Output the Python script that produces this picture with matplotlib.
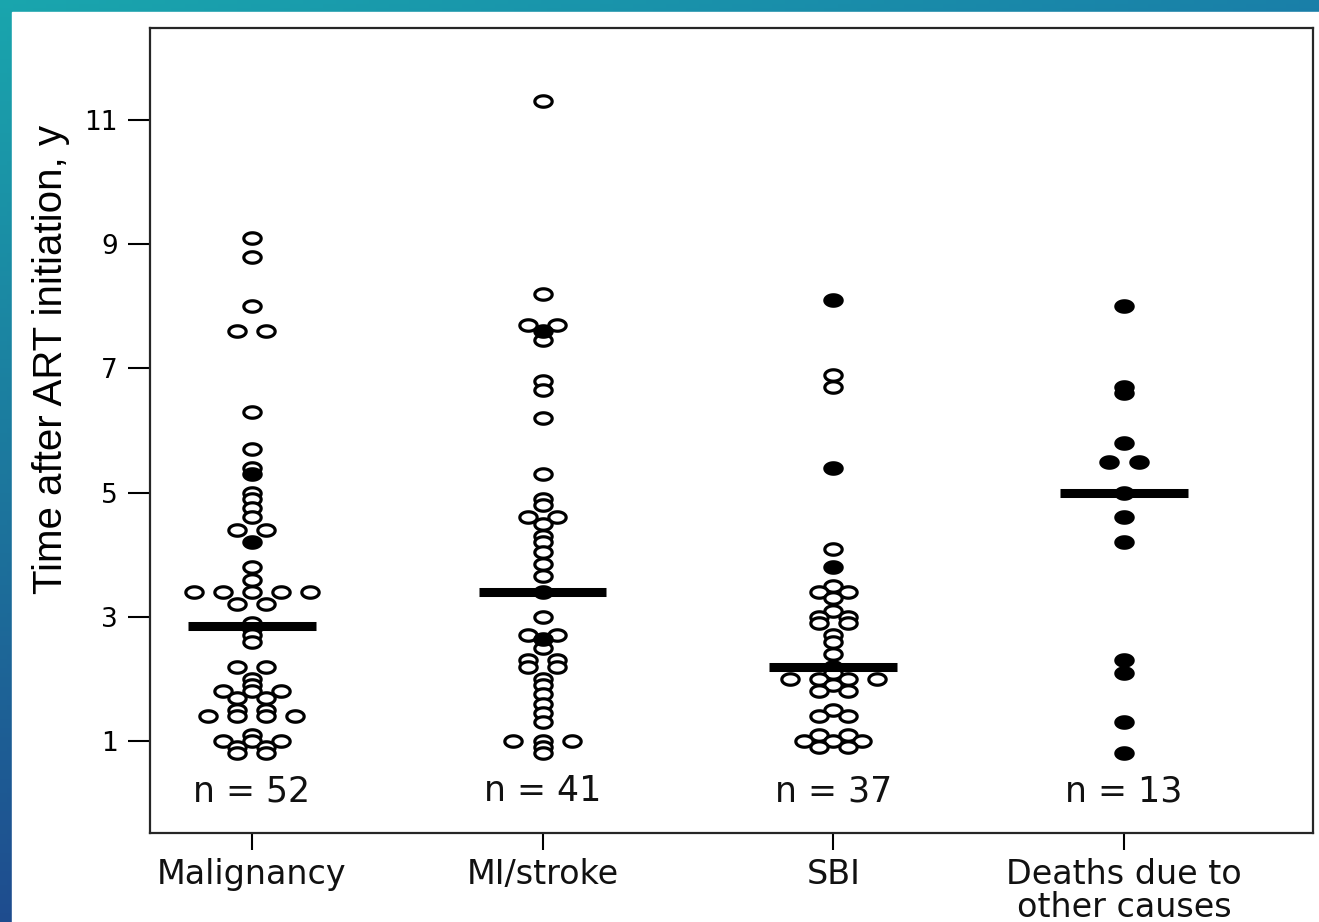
import numpy as np
import matplotlib
matplotlib.use("Agg")
import matplotlib.pyplot as plt
from matplotlib.path import Path
from matplotlib.patches import Rectangle

groups = ["Malignancy", "MI/stroke", "SBI", "Deaths due to\nother causes"]
n_labels = ["n = 52", "n = 41", "n = 37", "n = 13"]

mal_open = [9.1, 8.8, 8.0, 7.6, 7.6, 6.3, 5.7, 5.4, 5.0, 4.9, 4.75, 4.6, 4.4, 4.4,
            3.8, 3.6, 3.4, 3.4, 3.4, 3.4, 3.4, 3.2, 3.2, 2.9, 2.8, 2.7, 2.6,
            2.2, 2.2, 2.0, 1.9, 1.8, 1.8, 1.8, 1.7, 1.7, 1.5, 1.5,
            1.4, 1.4, 1.4, 1.4, 1.1, 1.0, 1.0, 1.0, 0.9, 0.9, 0.8, 0.8]
mal_filled = [5.3, 4.2]

mi_open = [11.3, 8.2, 7.7, 7.7, 7.45, 6.8, 6.65, 6.2, 5.3, 4.9, 4.8, 4.6, 4.6, 4.5,
           4.3, 4.2, 4.05, 3.85, 3.65, 3.4, 3.0, 2.7, 2.7, 2.5, 2.3, 2.3, 2.2, 2.2,
           2.0, 1.9, 1.75, 1.6, 1.45, 1.3, 1.0, 1.0, 1.0, 0.9, 0.8]
mi_filled = [7.6, 2.65]

sbi_open = [6.9, 6.7, 4.1, 3.5, 3.4, 3.4, 3.3, 3.1, 3.0, 3.0, 2.9, 2.9, 2.7, 2.6,
            2.4, 2.2, 2.1, 2.0, 2.0, 2.0, 2.0, 1.9, 1.8, 1.8, 1.5, 1.4, 1.4,
            1.1, 1.1, 1.0, 1.0, 1.0, 0.9, 0.9]
sbi_filled = [8.1, 5.4, 3.8]

oth_open = []
oth_filled = [8.0, 6.7, 6.6, 5.8, 5.5, 5.5, 5.0, 4.6, 4.2, 2.3, 2.1, 1.3, 0.8]

data = [(mal_open, mal_filled), (mi_open, mi_filled),
        (sbi_open, sbi_filled), (oth_open, oth_filled)]

# ellipse marker (wider than tall, like the stretched original)
t = np.linspace(0, 2 * np.pi, 60)
ell = Path(np.column_stack([np.cos(t), 0.66 * np.sin(t)]), closed=True)

fig = plt.figure(figsize=(13.19, 9.22), dpi=100)

# slide background: gradient frame + white panel
bg = fig.add_axes([0, 0, 1, 1], zorder=-10)
gx, gy = np.meshgrid(np.linspace(0, 1, 200), np.linspace(0, 1, 200))
top_left = np.array([0.10, 0.65, 0.68])
top_right = np.array([0.10, 0.50, 0.66])
bottom = np.array([0.12, 0.30, 0.56])
grad = (top_left + gx[..., None] * (top_right - top_left)
        + gy[..., None] * (bottom - top_left))
bg.imshow(np.clip(grad, 0, 1), extent=[0, 1, 0, 1], aspect="auto", origin="upper")
bg.add_patch(Rectangle((12 / 1319, 0), 1, 1 - 12 / 922, color="white"))
bg.set_xlim(0, 1)
bg.set_ylim(0, 1)
bg.axis("off")

ax = fig.add_axes([150 / 1319, 89 / 922, 1163 / 1319, 805 / 922])

step = 0.1
for i, (op, fi) in enumerate(data):
    xc = i + 1
    vals = np.array(op + fi, dtype=float)
    filled = np.array([False] * len(op) + [True] * len(fi))
    xs = np.zeros(len(vals))
    keys = np.round(vals, 3)
    for k in np.unique(keys):
        idx = np.where(keys == k)[0]
        xs[idx] = xc + (np.arange(len(idx)) - (len(idx) - 1) / 2) * step
    ax.scatter(xs[~filled], vals[~filled], marker=ell, s=155, facecolors="white",
               edgecolors="black", linewidths=2.3, zorder=3)
    ax.scatter(xs[filled], vals[filled], marker=ell, s=155, facecolors="black",
               edgecolors="black", linewidths=2.3, zorder=4)
    med = np.median(vals)
    ax.hlines(med, xc - 0.22, xc + 0.22, colors="black", linewidth=6.5, zorder=5)
    ax.text(xc, 0.19, n_labels[i], ha="center", va="center", fontsize=25,
            color="#111111")

ax.set_xlim(0.65, 4.65)
ax.set_ylim(-0.48, 12.48)
ax.set_yticks([1, 3, 5, 7, 9, 11])
ax.set_xticks([1, 2, 3, 4])
ax.set_xticklabels(groups, fontsize=24, linespacing=1.0, color="#111111")
ax.tick_params(axis="y", labelsize=19, length=16, width=1.5, pad=7)
ax.tick_params(axis="x", length=12, width=1.5, pad=6)
for sp in ax.spines.values():
    sp.set_linewidth(1.6)
    sp.set_color("#262626")

ax.set_ylabel("Time after ART initiation, y", family="Liberation Sans", fontsize=29)
ax.yaxis.set_label_coords(-0.069, 0.588)

fig.savefig("out.png", dpi=100)
